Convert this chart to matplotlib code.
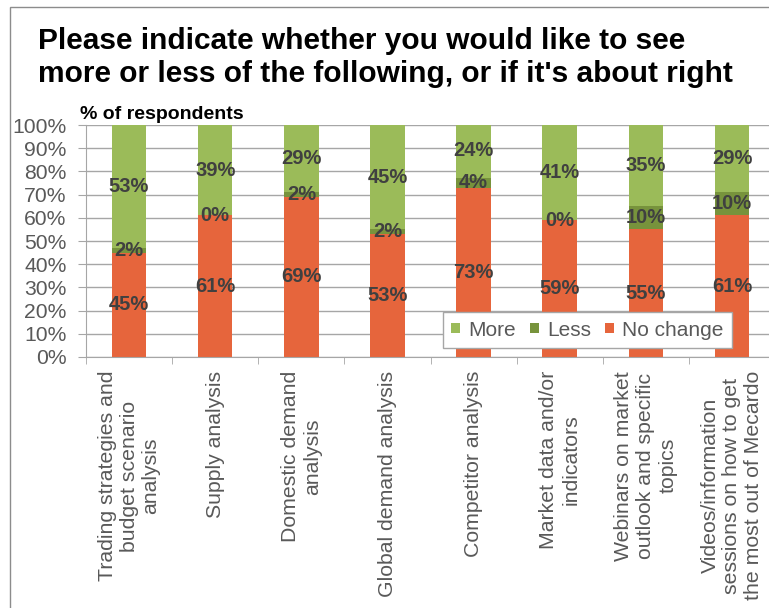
import numpy as np
import matplotlib.pyplot as plt
from matplotlib.patches import Rectangle

plt.rcParams["font.family"] = ["Liberation Sans", "DejaVu Sans"]

topics = ["Trading strategies and\nbudget scenario\nanalysis",
          "Supply analysis",
          "Domestic demand\nanalysis",
          "Global demand analysis",
          "Competitor analysis",
          "Market data and/or\nindicators",
          "Webinars on market\noutlook and specific\ntopics",
          "Videos/information\nsessions on how to get\nthe most out of Mecardo"]

no_change = [45, 61, 69, 53, 73, 59, 55, 61]
less = [2, 0, 2, 2, 4, 0, 10, 10]
more = [53, 39, 29, 45, 24, 41, 35, 29]

c_more = "#9BBB59"
c_less = "#77933C"
c_none = "#E6653C"
grey = "#595959"

fig = plt.figure(figsize=(7.69, 6.08), dpi=100)
ax = fig.add_axes([86/769, 1-357/608, 689/769, 232/608])

x = np.arange(len(topics))
w = 0.4
nc = np.array(no_change)
ls = np.array(less)
mo = np.array(more)

b1 = ax.bar(x, nc, w, color=c_none, label="No change", zorder=2)
b2 = ax.bar(x, ls, w, bottom=nc, color=c_less, label="Less", zorder=2)
b3 = ax.bar(x, mo, w, bottom=nc+ls, color=c_more, label="More", zorder=2)

# value labels in the middle of each segment
for vals, bots in [(nc, np.zeros(len(x))), (ls, nc), (mo, nc+ls)]:
    for i in range(len(x)):
        ax.text(x[i], bots[i]+vals[i]/2, "%d%%" % vals[i], ha="center", va="center",
                fontsize=14.5, fontweight="bold", color="#404040", zorder=3)

ax.set_xlim(-0.5, 7.5)
ax.set_ylim(0, 100)
ax.set_yticks(range(0, 101, 10))
ax.set_yticklabels(["%d%%" % v for v in range(0, 101, 10)], fontsize=15.2, color=grey)
ax.yaxis.grid(True, color="#A6A6A6", lw=1, zorder=0)
ax.tick_params(axis="y", length=6, color="#A6A6A6", pad=8)

ax.set_xticks(x)
ax.set_xticklabels(topics, rotation=90, fontsize=15.3, color=grey,
                   ha="center", va="top", multialignment="center", linespacing=1.2)
ax.set_xticks(np.arange(-0.5, 8, 1), minor=True)
ax.tick_params(axis="x", which="major", length=0, pad=10)
ax.tick_params(axis="x", which="minor", length=5, color="#A6A6A6")

for s in ["top", "right"]:
    ax.spines[s].set_visible(False)
for s in ["left", "bottom"]:
    ax.spines[s].set_color("#A6A6A6")

leg = ax.legend([b3, b2, b1], ["More", "Less", "No change"], ncol=3,
                loc="lower left", bbox_to_anchor=(443/769, 1-348/608),
                bbox_transform=fig.transFigure, fontsize=15,
                handlelength=0.4, handleheight=0.4, handletextpad=0.4,
                columnspacing=0.7, borderpad=0.4, borderaxespad=0,
                fancybox=False, framealpha=1, edgecolor="#A6A6A6", labelcolor=grey)
leg.set_zorder(5)

fig.text(38/769, 1-27/608, "Please indicate whether you would like to see\nmore or less of the following, or if it's about right",
         fontsize=21.5, fontweight="bold", ha="left", va="top", linespacing=1.22)
fig.text(80/769, 1-119/608, "% of respondents", fontsize=14, fontweight="bold",
         ha="left", va="baseline")

fig.patches.append(Rectangle((10/769, -0.1), 2, 1-7/608+0.1, fill=False,
                             edgecolor="#8C8C8C", lw=1, transform=fig.transFigure))

fig.savefig("out.png", dpi=100)
